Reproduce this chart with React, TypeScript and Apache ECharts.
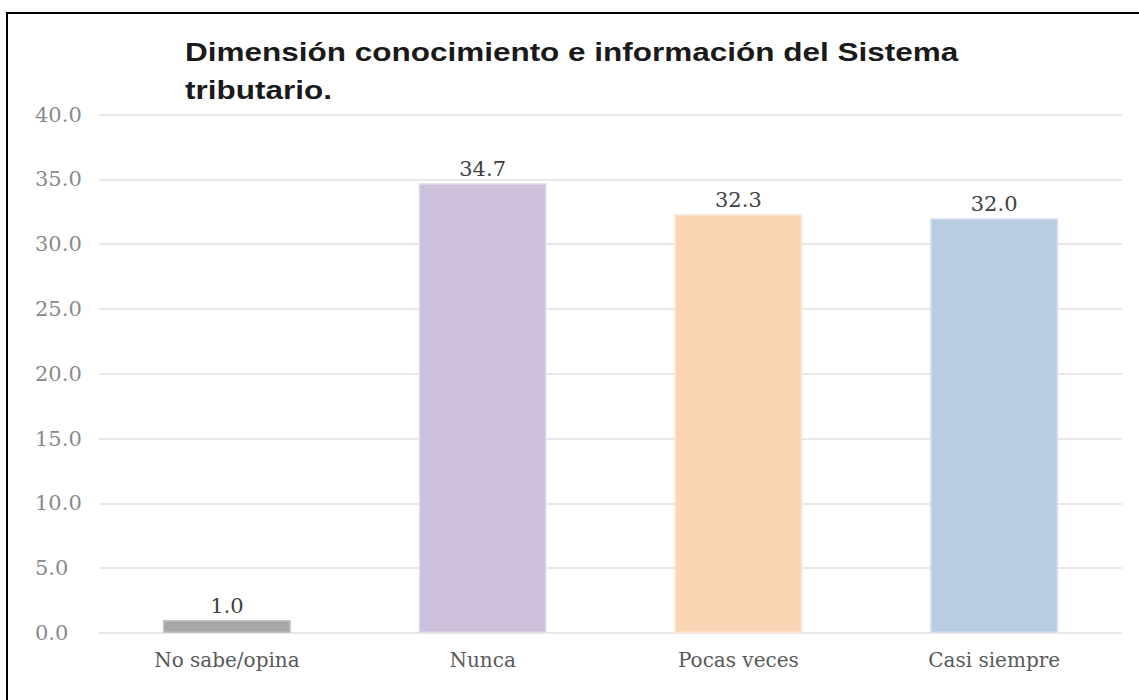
import React, { useEffect, useRef } from "react";
import * as echarts from "echarts";

const categories = ["No sabe/opina", "Nunca", "Pocas veces", "Casi siempre"];
const values = [1.0, 34.7, 32.3, 32.0];
const barColors = ["#a6a6a6", "#ccc0da", "#fcd5b4", "#b8cce4"];
const borderColors = ["#c4c4c4", "#e2dbea", "#fde6d2", "#d5e0ee"];
const titleText = "Dimensión conocimiento e información del Sistema\ntributario.";

export default function App() {
  const ref = useRef<HTMLDivElement>(null);
  useEffect(() => {
    if (!ref.current) return;
    const chart = echarts.init(ref.current, null, { renderer: "svg" });
    chart.setOption({
      animation: false,
      backgroundColor: "#ffffff",
      graphic: [
        {
          type: "rect",
          shape: { x: 7, y: 13, width: 1300, height: 900 },
          style: { fill: "none", stroke: "#000000", lineWidth: 2 },
          silent: true,
        },
        {
          type: "text",
          x: 185,
          y: 33,
          scaleX: 1.26,
          style: {
            text: titleText,
            font: "bold 25px 'Liberation Sans', Arial, sans-serif",
            fill: "#1a1a1a",
            lineHeight: 38,
          },
        },
      ],
      grid: { left: 99, right: 17, top: 114.5, bottom: 67, containLabel: false },
      xAxis: {
        type: "category",
        data: categories,
        axisLine: { show: false },
        axisTick: { show: false },
        axisLabel: {
          margin: 17,
          fontFamily: "'DejaVu Serif', serif",
          fontSize: 20,
          color: "#595959",
        },
      },
      yAxis: {
        type: "value",
        min: 0,
        max: 40,
        interval: 5,
        axisLine: { show: false },
        axisTick: { show: false },
        splitLine: { lineStyle: { color: "#e8e8e8", width: 2 } },
        axisLabel: {
          align: "left",
          margin: 64,
          fontFamily: "'DejaVu Serif', serif",
          fontSize: 21,
          color: "#8a8a8a",
          formatter: (v: number) => v.toFixed(1),
        },
      },
      series: [
        {
          type: "bar",
          barWidth: "50%",
          data: values.map((v, i) => ({
            value: v,
            itemStyle: { color: barColors[i], borderColor: borderColors[i], borderWidth: 1.5 },
          })),
          label: {
            show: true,
            position: "top",
            distance: 4,
            fontFamily: "'DejaVu Serif', serif",
            fontSize: 21,
            color: "#404040",
            formatter: (p: any) => Number(p.value).toFixed(1),
          },
        },
      ],
    });
    return () => chart.dispose();
  }, []);
  return (
    <div
      ref={ref}
      style={{ position: "absolute", left: 0, top: 0, width: 1139, height: 700 }}
    />
  );
}
